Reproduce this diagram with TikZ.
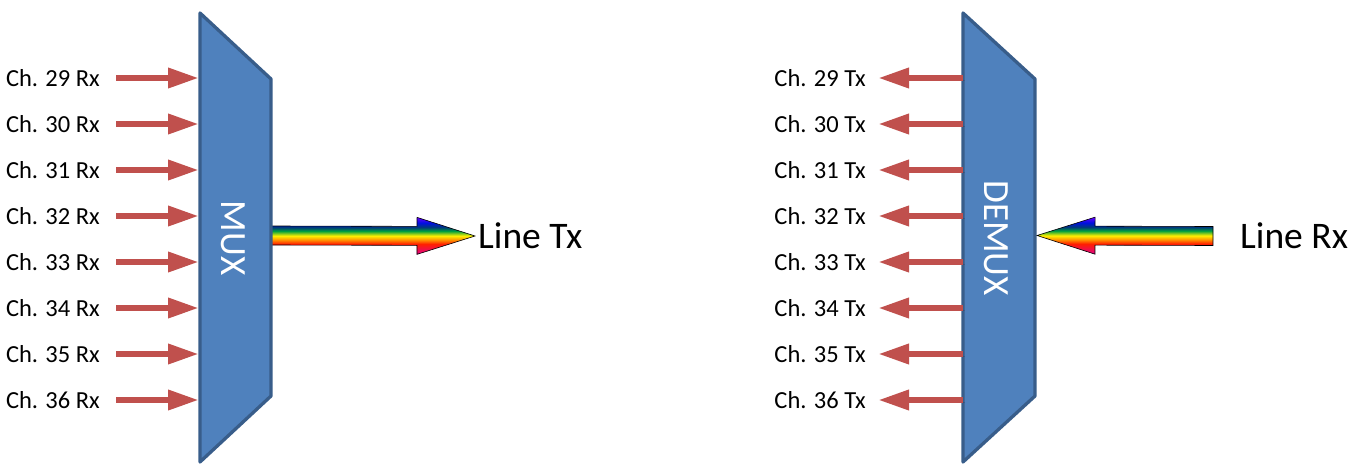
\documentclass[tikz,border=0pt]{standalone}
\usepackage{fontspec}
\setmainfont{Carlito}
\usetikzlibrary{arrows.meta,calc}
\definecolor{muxblue}{HTML}{4F81BD}
\definecolor{muxedge}{HTML}{385D8A}
\definecolor{chred}{HTML}{C0504D}
\definecolor{rbviolet}{HTML}{6A00FF}
\definecolor{rbblue}{HTML}{0010E0}
\definecolor{rbnavy}{HTML}{003A7A}
\definecolor{rbgreen}{HTML}{00A040}
\definecolor{rbyellow}{HTML}{FFF000}
\definecolor{rborange}{HTML}{FF9900}
\definecolor{rbred}{HTML}{FF2000}
\definecolor{rbmagenta}{HTML}{E0008C}
\pgfdeclareverticalshading{rainbow}{100bp}{color(0bp)=(rbmagenta); color(25bp)=(rbmagenta);
	color(39bp)=(rbred); color(45bp)=(rborange); color(50bp)=(rbyellow);
	color(56.5bp)=(rbgreen); color(61.5bp)=(rbnavy); color(67.5bp)=(rbblue);
	color(75bp)=(rbviolet); color(100bp)=(rbviolet)}
\tikzset{
	muxbox/.style = {fill=muxblue, draw=muxedge, line width=3.3pt, line join=round},
	muxtext/.style = {white, font=\fontsize{37}{40}\selectfont, rotate=-90, inner sep=0pt},
	chlabel/.style = {font=\fontsize{24.5}{28}\selectfont, inner sep=0pt, anchor=east},
	linelabel/.style = {font=\fontsize{37.5}{40}\selectfont, inner sep=3pt, anchor=west},
	charrow/.style = {chred, line width=6.5pt, -{Triangle[length=31pt,width=19pt]},
		preaction={draw=black, opacity=0.12, transform canvas={shift={(1.5pt,-2.5pt)}}}},
	rbarrow/.style = {shading=rainbow, draw=black, line width=0.6pt, line join=miter}
}
% #1 tail, #2 tip
\newcommand{\rainbowarrow}[2]{%
	\shadedraw[rbarrow] ($(#1)!9.5pt!-90:(#2)$)
	-- ($($(#2)!58pt!(#1)$)!9.5pt!-90:(#2)$)
	-- ($($(#2)!58pt!(#1)$)!18.5pt!-90:(#2)$)
	-- (#2)
	-- ($($(#2)!58pt!(#1)$)!18.5pt!90:(#2)$)
	-- ($($(#2)!58pt!(#1)$)!9.5pt!90:(#2)$)
	-- ($(#1)!9.5pt!90:(#2)$) -- cycle;}

\begin{document}
\begin{tikzpicture}[x=1pt, y=-1pt]
\useasboundingbox (0,0) rectangle (1358,471);

% multiplexer
\coordinate (muxL) at (199,0);
\coordinate (muxR) at (271,235.5);
\node[linelabel] (linetx) at (475,236) {Line Tx};
\rainbowarrow{muxR}{linetx.west}
\draw[muxbox] (200,13) -- (271,79) -- (271,396) -- (200,462) -- cycle;
\node[muxtext] (mux) at (233,238) {MUX};
\foreach \n [count=\i from 0] in {29,...,36} {
	\node[chlabel] (rx\n) at (100,78+46*\i) {Ch. \n\ Rx};
	\draw[charrow, shorten <=16pt] (rx\n.east) -- (rx\n.east -| muxL);
}

% demultiplexer
\coordinate (demuxL) at (963,0);
\coordinate (demuxR) at (1037,235.5);
\draw[muxbox] (963,13) -- (1035,79) -- (1035,396) -- (963,462) -- cycle;
\node[muxtext] (demux) at (996,238) {DEMUX};
\node[linelabel] (linerx) at (1237,236) {Line Rx};
\coordinate (rxtail) at ($(linerx.west)+(-24,0)$);
\rainbowarrow{rxtail}{demuxR}
\foreach \n [count=\i from 0] in {29,...,36} {
	\node[chlabel] (tx\n) at (866,78+46*\i) {Ch. \n\ Tx};
	\draw[charrow, shorten >=12pt] (tx\n.east -| demuxL) -- (tx\n.east);
}
\end{tikzpicture}
\end{document}
